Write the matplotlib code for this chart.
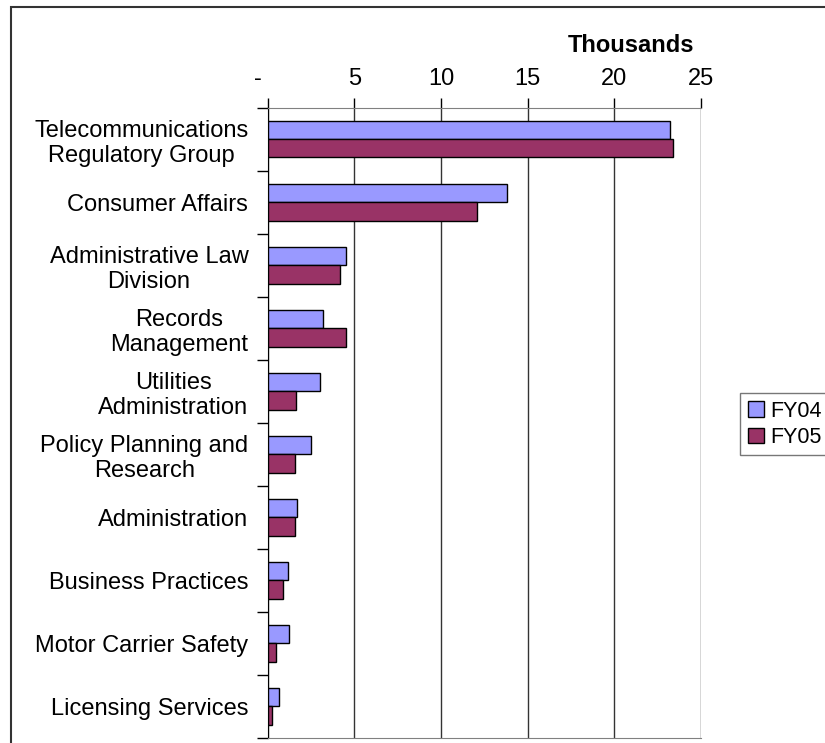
import matplotlib
matplotlib.use("Agg")
import matplotlib.pyplot as plt
import numpy as np
from matplotlib.patches import Rectangle
from matplotlib.transforms import ScaledTranslation

plt.rcParams['font.family'] = ['Liberation Sans', 'DejaVu Sans']

categories = [
    "Telecommunications\nRegulatory Group",
    "Consumer Affairs",
    "Administrative Law\nDivision",
    "Records\nManagement",
    "Utilities\nAdministration",
    "Policy Planning and\nResearch",
    "Administration",
    "Business Practices",
    "Motor Carrier Safety",
    "Licensing Services",
]
fy04 = [23.2, 13.8, 4.5, 3.2, 3.0, 2.5, 1.7, 1.2, 1.25, 0.67]
fy05 = [23.4, 12.1, 4.15, 4.5, 1.65, 1.55, 1.6, 0.9, 0.5, 0.27]
series_names = ["FY04", "FY05"]
xticks = [0, 5, 10, 15, 20, 25]
xticklabels = ["-", "5", "10", "15", "20", "25"]

c04 = "#9999FF"
c05 = "#993366"
FS = 17

fig = plt.figure(figsize=(8.25, 7.43), dpi=100)
ax = fig.add_axes([267.7/825, 1-738/743, (701-267.7)/825, (738-107.7)/743])

n = len(categories)
y = np.arange(n)
h = 0.29
b1 = ax.barh(y - h/2, fy04, height=h, color=c04, edgecolor="black", linewidth=1.0, label=series_names[0], zorder=3)
b2 = ax.barh(y + h/2, fy05, height=h, color=c05, edgecolor="black", linewidth=1.0, label=series_names[1], zorder=3)

ax.set_ylim(n - 0.5, -0.5)
ax.set_xlim(0, 25)

ax.xaxis.tick_top()
ax.set_xticks(xticks)
ax.set_xticklabels(xticklabels, fontsize=FS)
ax.tick_params(axis='x', direction='out', length=7, width=1, pad=6, colors='black')
ax.grid(axis='x', color='#333333', linewidth=1, zorder=0)

ax.set_yticks(y)
ax.set_yticklabels(categories, fontsize=FS, multialignment='center')
ax.tick_params(axis='y', which='major', length=0, pad=14)
ax.set_yticks(np.arange(n + 1) - 0.5, minor=True)
ax.tick_params(axis='y', which='minor', direction='out', length=8, width=1, color='black')

# offset the "-" label slightly left
lab0 = ax.get_xticklabels()[0]
lab0.set_transform(lab0.get_transform() + ScaledTranslation(-0.10, 0, fig.dpi_scale_trans))

for s in ['top', 'bottom']:
    ax.spines[s].set_color('#808080')
ax.spines['left'].set_color('black')
ax.spines['right'].set_visible(False)

fig.text(631/825, 1-46/743, "Thousands", fontsize=FS, fontweight='bold', ha='center', va='center')

leg = fig.legend(handles=[b1, b2], labels=series_names, loc='upper left',
                 bbox_to_anchor=(740/825, 1-393/743), fontsize=15.5, frameon=True,
                 fancybox=False, edgecolor='#555555', handlelength=0.75, handleheight=0.7,
                 handletextpad=0.3, borderpad=0.35, labelspacing=0.25, borderaxespad=0)
leg.get_frame().set_linewidth(1)

# outer chart frame
fig.patches.append(Rectangle((11/825, -0.05), 1.0, 1-7/743 + 0.05, transform=fig.transFigure,
                             fill=False, edgecolor='#333333', linewidth=1.5, zorder=0))

fig.savefig("out.png", dpi=100)
